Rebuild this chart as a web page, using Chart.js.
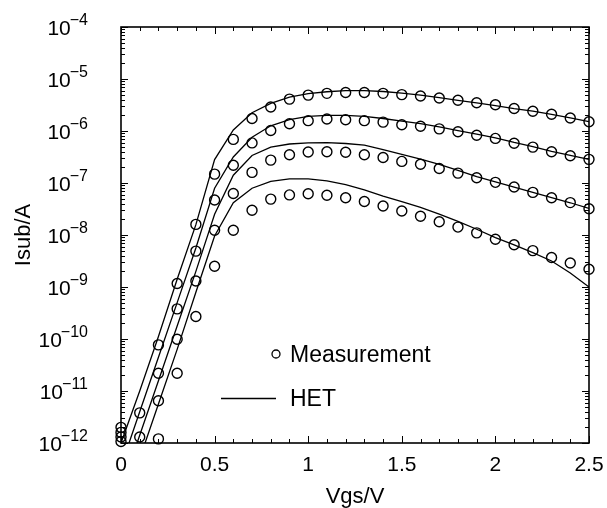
<!DOCTYPE html>
<html><head><meta charset="utf-8">
<script src="https://cdn.jsdelivr.net/npm/chart.js@4.4.0/dist/chart.umd.min.js"></script>
<style>html,body{margin:0;padding:0;background:#fff}</style>
</head><body>
<canvas id="c" width="607" height="508"></canvas>
<script>
// ---------- data ----------
const vgs = [0,0.1,0.2,0.3,0.4,0.5,0.6,0.7,0.8,0.9,1.0,1.1,1.2,1.3,1.4,1.5,1.6,1.7,1.8,1.9,2.0,2.1,2.2,2.3,2.4,2.5];

const measured1 = [2.0e-12,3.8e-12,7.7e-11,1.17e-9,1.6e-8,1.48e-7,6.9e-7,1.74e-6,2.9e-6,4.1e-6,4.9e-6,5.3e-6,5.5e-6,5.5e-6,5.3e-6,5.0e-6,4.7e-6,4.3e-6,3.9e-6,3.5e-6,3.2e-6,2.7e-6,2.4e-6,2.1e-6,1.78e-6,1.51e-6];
const measured2 = [1.6e-12,1.3e-12,2.2e-11,3.8e-10,4.9e-9,4.7e-8,2.2e-7,5.9e-7,1.02e-6,1.38e-6,1.58e-6,1.7e-6,1.65e-6,1.58e-6,1.48e-6,1.32e-6,1.23e-6,1.1e-6,9.7e-7,8.3e-7,7.2e-7,5.8e-7,4.9e-7,4.0e-7,3.35e-7,2.85e-7];
const measured3 = [1.3e-12,null,6.5e-12,9.9e-11,1.3e-9,1.23e-8,6.3e-8,1.6e-7,2.75e-7,3.5e-7,3.95e-7,4.0e-7,3.9e-7,3.5e-7,3.1e-7,2.6e-7,2.3e-7,1.9e-7,1.55e-7,1.26e-7,1.03e-7,8.4e-8,6.6e-8,5.2e-8,4.2e-8,3.2e-8];
const measured4 = [1.07e-12,null,1.2e-12,2.2e-11,2.7e-10,2.5e-9,1.23e-8,3.0e-8,4.9e-8,5.9e-8,6.2e-8,5.8e-8,5.2e-8,4.4e-8,3.6e-8,2.9e-8,2.3e-8,1.8e-8,1.42e-8,1.1e-8,8.3e-9,6.5e-9,5.0e-9,3.7e-9,2.9e-9,2.2e-9];

const het1 = [1.0e-12,1.0e-11,1.12e-10,1.41e-9,1.58e-8,2.82e-7,1.05e-6,2.24e-6,3.39e-6,4.47e-6,5.25e-6,5.69e-6,5.96e-6,5.96e-6,5.75e-6,5.37e-6,4.9e-6,4.37e-6,3.89e-6,3.47e-6,3.09e-6,2.69e-6,2.4e-6,2.09e-6,1.78e-6,1.51e-6];
const het2 = [3.55e-13,3.98e-12,4.47e-11,5.01e-10,5.62e-9,7.94e-8,3.16e-7,7.59e-7,1.26e-6,1.66e-6,1.91e-6,2.0e-6,2.0e-6,1.91e-6,1.74e-6,1.55e-6,1.38e-6,1.2e-6,1.02e-6,8.7e-7,7.41e-7,6.03e-7,5.01e-7,4.07e-7,3.39e-7,2.85e-7];
const het3 = [1.26e-13,1.41e-12,1.58e-11,1.78e-10,2.0e-9,2.51e-8,1.41e-7,3.39e-7,4.9e-7,5.62e-7,5.89e-7,5.96e-7,5.75e-7,5.37e-7,4.37e-7,3.55e-7,2.88e-7,2.29e-7,1.74e-7,1.32e-7,1.05e-7,8.32e-8,6.61e-8,5.25e-8,4.17e-8,3.24e-8];
const het4 = [4.47e-14,5.01e-13,5.62e-12,6.31e-11,7.94e-10,9.55e-9,4.17e-8,7.94e-8,1.07e-7,1.2e-7,1.2e-7,1.1e-7,9.33e-8,7.41e-8,5.62e-8,4.37e-8,3.39e-8,2.51e-8,1.82e-8,1.29e-8,8.91e-9,6.46e-9,4.57e-9,3.16e-9,1.86e-9,1.0e-9];

const xTickValues = [0,0.5,1,1.5,2,2.5];
const xTickLabels = ['0','0.5','1','1.5','2','2.5'];
const yTickExponents = [-4,-5,-6,-7,-8,-9,-10,-11,-12];

const xTitle = 'Vgs/V';
const yTitle = 'Isub/A';
const legendMeas = 'Measurement';
const legendHet = 'HET';

// ---------- chart ----------
const FONT = '"Liberation Sans", Arial, Helvetica, sans-serif';
const pts = arr => vgs.map((v,i) => ({x:v, y:arr[i]}));

const measStyle = {
  showLine:false, pointStyle:'circle', pointRadius:5, pointHoverRadius:5,
  borderColor:'#000', backgroundColor:'rgba(0,0,0,0)', pointBorderWidth:1.4, borderWidth:1.4,
  clip:false
};
const lineStyle = {
  showLine:true, pointRadius:0, borderColor:'#000', borderWidth:1.3, tension:0, fill:false
};

const decor = {
  id:'decor',
  afterDatasetsDraw(chart){
    const {ctx, chartArea:a, scales:{x, y}} = chart;
    ctx.save();
    ctx.strokeStyle = '#000';
    ctx.fillStyle = '#000';
    ctx.lineWidth = 1;
    ctx.beginPath();
    for (let k = 0; k <= 25; k++) {
      const px = Math.round(x.getPixelForValue(k/10)) + 0.5;
      const len = (k % 5 === 0) ? 7 : 4;
      ctx.moveTo(px, a.bottom); ctx.lineTo(px, a.bottom - len);
      ctx.moveTo(px, a.top); ctx.lineTo(px, a.top + len);
    }
    for (let e = -12; e <= -4; e++) {
      for (let m = 1; m <= 9; m++) {
        if (e === -4 && m > 1) break;
        const py = Math.round(y.getPixelForValue(m * Math.pow(10, e))) + 0.5;
        const len = (m === 1) ? 7 : 4;
        ctx.moveTo(a.left, py); ctx.lineTo(a.left + len, py);
        ctx.moveTo(a.right, py); ctx.lineTo(a.right - len, py);
      }
    }
    ctx.stroke();
    ctx.lineWidth = 1.6;
    ctx.strokeRect(a.left, a.top, a.right - a.left, a.bottom - a.top);

    // x tick labels
    ctx.font = '21px ' + FONT;
    ctx.textAlign = 'center';
    ctx.textBaseline = 'alphabetic';
    xTickValues.forEach((v,i) => ctx.fillText(xTickLabels[i], x.getPixelForValue(v), 471));

    // y tick labels 10^e
    yTickExponents.forEach(e => {
      const py = y.getPixelForValue(Math.pow(10, e));
      const sup = '\u2212' + Math.abs(e);
      ctx.font = '16px ' + FONT;
      const sw = ctx.measureText(sup).width;
      ctx.textAlign = 'left';
      ctx.fillText(sup, 88 - sw, py - 2);
      ctx.font = '21px ' + FONT;
      ctx.textAlign = 'right';
      ctx.fillText('10', 88 - sw + 1, py + 8);
    });

    // axis titles
    ctx.font = '22px ' + FONT;
    ctx.textAlign = 'center';
    ctx.fillText(xTitle, (a.left + a.right) / 2, 503);
    ctx.save();
    ctx.translate(30, 235);
    ctx.rotate(-Math.PI / 2);
    ctx.fillText(yTitle, 0, 0);
    ctx.restore();

    // legend
    ctx.lineWidth = 1.3;
    ctx.beginPath();
    ctx.arc(276, 354, 4, 0, Math.PI * 2);
    ctx.stroke();
    ctx.beginPath();
    ctx.moveTo(221, 398.5); ctx.lineTo(276, 398.5);
    ctx.stroke();
    ctx.font = '23px ' + FONT;
    ctx.textAlign = 'left';
    ctx.fillText(legendMeas, 290, 362);
    ctx.fillText(legendHet, 290, 406);
    ctx.restore();
  }
};

new Chart(document.getElementById('c'), {
  type:'scatter',
  data:{
    datasets:[
      {label:'HET 1', data:pts(het1), ...lineStyle},
      {label:'HET 2', data:pts(het2), ...lineStyle},
      {label:'HET 3', data:pts(het3), ...lineStyle},
      {label:'HET 4', data:pts(het4), ...lineStyle},
      {label:'Measurement 1', data:pts(measured1), ...measStyle},
      {label:'Measurement 2', data:pts(measured2), ...measStyle},
      {label:'Measurement 3', data:pts(measured3), ...measStyle},
      {label:'Measurement 4', data:pts(measured4), ...measStyle}
    ]
  },
  options:{
    responsive:false, animation:false, devicePixelRatio:1,
    layout:{padding:{left:121, right:18, top:27, bottom:65}},
    plugins:{legend:{display:false}, tooltip:{enabled:false}},
    scales:{
      x:{type:'linear', min:0, max:2.5, display:false},
      y:{type:'logarithmic', min:1e-12, max:1e-4, display:false}
    }
  },
  plugins:[decor]
});
</script>
</body></html>
